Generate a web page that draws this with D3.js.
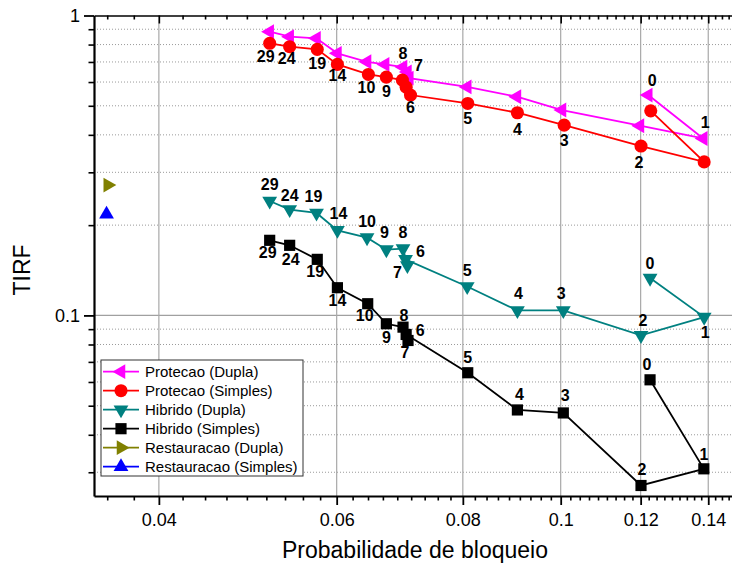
<!DOCTYPE html>
<html><head><meta charset="utf-8">
<script src="https://cdn.jsdelivr.net/npm/d3@7"></script>
<style>body{margin:0;background:#fff}svg{display:block;font-family:Arial,"Liberation Sans",sans-serif}</style>
</head><body><svg id="c" width="732" height="565"></svg>
<script>
// ---- data ----
const pointLabels = ["0","1","2","3","4","5","6","7","8","9","10","14","19","24","29"];
const protDuplaX   = [0.1221,0.1384,0.1198,0.1003,0.0905,0.0808,0.0708,0.0705,0.0698,0.0670,0.0643,0.0601,0.0573,0.0539,0.0515];
const protDuplaY   = [0.543,0.389,0.429,0.484,0.536,0.578,0.618,0.648,0.673,0.687,0.701,0.748,0.839,0.850,0.883];
const protSimplesX = [0.1228,0.1387,0.1201,0.1008,0.0906,0.0809,0.0710,0.0703,0.0697,0.0672,0.0645,0.0601,0.0574,0.0539,0.0515];
const protSimplesY = [0.481,0.325,0.367,0.431,0.474,0.509,0.543,0.577,0.609,0.623,0.636,0.687,0.771,0.787,0.808];
const hibDuplaX    = [0.1226,0.1387,0.1201,0.1006,0.0906,0.0808,0.0702,0.0705,0.0698,0.0672,0.0643,0.0601,0.0573,0.0539,0.0515];
const hibDuplaY    = [0.1332,0.0987,0.0858,0.1039,0.1039,0.1249,0.1538,0.1468,0.167,0.1657,0.1817,0.1922,0.2196,0.2254,0.2407];
const hibSimplesX  = [0.1226,0.1386,0.1201,0.1006,0.0906,0.0809,0.0703,0.0706,0.0698,0.0672,0.0644,0.0601,0.0574,0.0539,0.0515];
const hibSimplesY  = [0.0610,0.0308,0.0271,0.0473,0.0484,0.0644,0.0864,0.0825,0.0914,0.0938,0.1094,0.1237,0.1538,0.1713,0.1780];
const restDuplaX = [0.0356], restDuplaY = [0.272];
const restSimplesX = [0.0355], restSimplesY = [0.2175];
const seriesNames = ["Protecao (Dupla)","Protecao (Simples)","Hibrido (Dupla)","Hibrido (Simples)","Restauracao (Dupla)","Restauracao (Simples)"];
const xMajorTicks = [0.04,0.06,0.08,0.1,0.12,0.14];
const xTickLabels = ["0.04","0.06","0.08","0.1","0.12","0.14"];
const yMajorTicks = [0.1,1];
const yTickLabels = ["0.1","1"];
const xTitle = "Probabilidade de bloqueio";
const yTitle = "TIRF";

// ---- styles / layout ----
const colors = ["#FF00FF","#FF0000","#008080","#000000","#808000","#0000FF"];
const shapes = ["left","circle","down","square","right","up"];
// label placement (dx,dy) per series; only labels present are drawn
const labelPos = [
  {"8":[0,-14],"7":[11,-7],"0":[4,-15],"1":[2,-16]},
  {"29":[-4,13],"24":[-3,12],"19":[0,14],"14":[0,11],"10":[-2,13],"9":[0,14],"6":[0,12],"5":[0,15],"4":[0,16],"3":[0,15],"2":[-2,16]},
  {"29":[0,-17],"24":[0,-14],"19":[-3,-17],"14":[1,-17],"10":[0,-16],"9":[-2,-17],"8":[0,-16],"6":[15,-8],"7":[-10,7],"5":[0,-16],"4":[1,-17],"3":[-2,-17],"2":[2,-15],"1":[1,15],"0":[0,-15]},
  {"29":[-2,12],"24":[1,14],"19":[-2,12],"14":[0,13],"10":[-3,12],"9":[0,13],"8":[1,-12],"6":[14,-4],"7":[-3,12],"5":[0,-16],"4":[2,-16],"3":[2,-18],"2":[1,-16],"1":[0,-15],"0":[-3,-16]},
  {},{}
];

const svg = d3.select("#c");
const L=94, R=738.5, T=15.5, B=496;
const x = d3.scaleLog().domain([0.0345,0.15]).range([L,R]);
const y = d3.scaleLog().domain([0.025,1]).range([B,T]);

const xMinor=[];
for (let m=0.02;m<0.16;m+=0.02){ for(let i=1;i<=8;i++){ const v=m+i*0.02/9; if(v>0.0345&&v<0.15) xMinor.push(v);} }
const yMinor=[];
[0.01,0.1].forEach(d=>{for(let i=2;i<=9;i++){const v=d*i; if(v>0.025&&v<1) yMinor.push(v);}});

// grid
const g = svg.append("g");
g.selectAll(".ym").data(yMinor).join("line")
  .attr("x1",L).attr("x2",732).attr("y1",d=>y(d)).attr("y2",d=>y(d))
  .attr("stroke","#9a9a9a").attr("stroke-width",1).attr("stroke-dasharray","1,2");
g.selectAll(".yM").data([0.1]).join("line")
  .attr("x1",L).attr("x2",732).attr("y1",d=>y(d)).attr("y2",d=>y(d))
  .attr("stroke","#a0a0a0").attr("stroke-width",1.2);
g.selectAll(".xM").data(xMajorTicks).join("line")
  .attr("x1",d=>x(d)).attr("x2",d=>x(d)).attr("y1",T).attr("y2",B)
  .attr("stroke","#a8a8a8").attr("stroke-width",1.2);

// axes
function styleAxis(sel,w){ sel.select(".domain").attr("stroke","#000").attr("stroke-width",w); sel.selectAll(".tick line").attr("stroke","#000").attr("stroke-width",1.6); sel.selectAll("text").remove(); }
const bx = svg.append("g").attr("transform",`translate(0,${B})`);
bx.append("g").call(d3.axisBottom(x).tickValues(xMinor).tickSize(4.5).tickSizeOuter(0)).call(s=>styleAxis(s,2));
const bxM = bx.append("g").call(d3.axisBottom(x).tickValues(xMajorTicks).tickSize(9).tickSizeOuter(0));
bxM.select(".domain").remove(); bxM.selectAll(".tick line").attr("stroke","#000").attr("stroke-width",1.8);
bxM.selectAll("text").text((d,i)=>xTickLabels[i]).attr("font-size",18).attr("fill","#000").attr("y",17).attr("font-family","Arial, 'Liberation Sans', sans-serif");

const tx = svg.append("g").attr("transform",`translate(0,${T})`);
tx.append("g").call(d3.axisBottom(x).tickValues(xMinor).tickSize(4).tickSizeOuter(0)).call(s=>styleAxis(s,1.6));
tx.append("g").call(d3.axisBottom(x).tickValues(xMajorTicks).tickSize(8).tickSizeOuter(0)).call(s=>{s.select(".domain").remove(); s.selectAll(".tick line").attr("stroke","#000").attr("stroke-width",1.6); s.selectAll("text").remove();});

const ly = svg.append("g").attr("transform",`translate(${L},0)`);
ly.append("g").call(d3.axisLeft(y).tickValues(yMinor).tickSize(5.5).tickSizeOuter(0)).call(s=>styleAxis(s,2.2));
const lyM = ly.append("g").call(d3.axisLeft(y).tickValues(yMajorTicks).tickSize(10).tickSizeOuter(0));
lyM.select(".domain").remove(); lyM.selectAll(".tick line").attr("stroke","#000").attr("stroke-width",1.8);
lyM.selectAll("text").text(d=>yTickLabels[yMajorTicks.indexOf(d)]).attr("font-size",18).attr("fill","#000").attr("x",-14).attr("font-family","Arial, 'Liberation Sans', sans-serif");

// titles
svg.append("text").attr("x",415).attr("y",558).attr("text-anchor","middle").attr("font-size",23).attr("fill","#000").text(xTitle);
svg.append("text").attr("transform","translate(30,270) rotate(-90)").attr("text-anchor","middle").attr("font-size",23).attr("fill","#000").text(yTitle);

// series
const series = [
  [protDuplaX,protDuplaY],[protSimplesX,protSimplesY],[hibDuplaX,hibDuplaY],[hibSimplesX,hibSimplesY],
  [restDuplaX,restDuplaY],[restSimplesX,restSimplesY]
].map(([xs,ys],k)=>({name:seriesNames[k],color:colors[k],shape:shapes[k],
  pts:xs.map((v,i)=>({x:v,y:ys[i],label:xs.length>1?pointLabels[i]:null}))}));

function marker(sel,shape,color){
  let type, size, rot=0;
  if(shape==="circle"){type=d3.symbolCircle;size=135;}
  else if(shape==="square"){type=d3.symbolSquare;size=125;}
  else {type=d3.symbolTriangle;size=95; rot={up:0,down:180,left:-90,right:90}[shape];}
  sel.append("path").attr("d",d3.symbol(type,size)()).attr("fill",color).attr("stroke","none")
    .attr("transform",`rotate(${rot})`);
}

const line = d3.line().x(d=>x(d.x)).y(d=>y(d.y));
series.forEach((s,k)=>{
  const gs = svg.append("g");
  if(s.pts.length>1) gs.append("path").attr("d",line(s.pts)).attr("fill","none").attr("stroke",s.color).attr("stroke-width",1.8);
  s.pts.forEach(p=>{
    const mg = gs.append("g").attr("transform",`translate(${x(p.x)},${y(p.y)})`);
    marker(mg,s.shape,s.color);
  });
});
// point labels
series.forEach((s,k)=>{
  s.pts.forEach(p=>{
    if(p.label===null) return;
    const off = labelPos[k][p.label]; if(!off) return;
    svg.append("text").attr("x",x(p.x)+off[0]).attr("y",y(p.y)+off[1]).attr("dy","0.36em")
      .attr("text-anchor","middle").attr("font-size",16).attr("font-weight","bold").attr("fill","#000").text(p.label);
  });
});

// legend
const lg = svg.append("g");
lg.append("rect").attr("x",101).attr("y",360).attr("width",202).attr("height",116).attr("fill","#fff").attr("stroke","#333").attr("stroke-width",1);
series.forEach((s,i)=>{
  const yy = 371.7 + i*19;
  lg.append("line").attr("x1",103).attr("x2",139).attr("y1",yy).attr("y2",yy).attr("stroke",s.color).attr("stroke-width",1.8);
  const mg = lg.append("g").attr("transform",`translate(121,${yy})`);
  marker(mg,s.shape,s.color);
  lg.append("text").attr("x",145).attr("y",yy).attr("dy","0.36em").attr("font-size",15).attr("fill","#000").text(s.name);
});
</script></body></html>
